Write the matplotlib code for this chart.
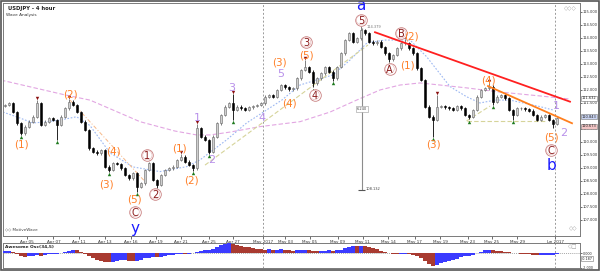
import numpy as np
import matplotlib
matplotlib.use("Agg")
import matplotlib.pyplot as plt
import matplotlib.ticker as mticker

# ---------------- data ----------------
first_open = 111.38
closes = [111.41, 111.47, 111.15, 110.71, 110.32, 110.58, 110.77, 110.96, 111.47, 110.64,
          110.77, 110.90, 110.83, 110.64, 110.96, 111.28, 111.54, 111.41, 111.15, 110.77,
          110.45, 109.74, 109.62, 109.55, 109.68, 109.04, 108.91, 109.17, 109.14, 108.97,
          108.72, 108.59, 108.78, 108.27, 108.40, 108.91, 109.17, 108.53, 108.33, 108.72,
          108.91, 108.97, 109.04, 109.29, 109.42, 109.23, 109.10, 108.97, 110.51, 110.19,
          110.06, 109.62, 110.19, 110.71, 111.03, 111.35, 111.47, 111.22, 111.35, 111.28,
          111.22, 111.32, 111.37, 111.41, 111.47, 111.73, 111.79, 111.73, 111.99, 112.18,
          112.09, 112.01, 112.05, 112.44, 112.76, 112.88, 112.69, 112.24, 112.44, 112.63,
          112.88, 112.69, 112.44, 112.88, 113.40, 113.91, 114.17, 113.85, 113.97, 114.29,
          114.17, 113.85, 113.78, 113.85, 113.65, 113.40, 113.17, 113.33, 113.59, 113.78,
          113.78, 113.59, 113.40, 112.82, 112.37, 111.35, 110.96, 110.83, 111.35, 111.37,
          111.32, 111.28, 111.22, 111.37, 111.28, 111.03, 110.96, 111.22, 111.73, 111.99,
          112.05, 112.12, 111.54, 111.73, 111.79, 111.67, 111.22, 111.03, 111.28, 111.28,
          111.24, 111.19, 111.03, 110.83, 110.96, 111.03, 110.83, 110.68, 110.90]

hi_idx = [8, 16, 36, 44, 48, 57, 75, 89, 100, 108, 121]
hi_val = [111.60, 111.63, 109.23, 109.53, 110.68, 111.82, 113.14, 114.45, 113.94, 111.79, 112.24]
lo_idx = [4, 13, 26, 33, 38, 47, 51, 57, 77, 82, 96, 107, 116, 122, 127, 137]
lo_val = [110.26, 110.06, 108.85, 108.08, 108.21, 108.88, 109.53, 110.83, 112.09, 112.35,
          113.06, 110.19, 110.86, 111.41, 110.83, 110.51]

frac_up_idx = [8, 16, 36, 44, 48, 57, 75, 89, 100, 108, 121]          # red, above highs
frac_dn_idx = [4, 13, 26, 33, 38, 47, 51, 57, 77, 82, 96, 107, 116, 122, 127]  # green, below lows

osc = [0.23, 0.23, 0.14, -0.14, -0.36, -0.50, -0.45, -0.36, -0.32, -0.36,
       -0.27, -0.18, -0.14, -0.09, 0.00, 0.14, 0.32, 0.41, 0.36, 0.18,
       -0.14, -0.45, -0.73, -0.91, -1.05, -1.18, -1.27, -1.23, -1.09, -1.00,
       -1.00, -1.09, -1.14, -1.09, -0.91, -0.73, -0.64, -0.55, -0.59, -0.50,
       -0.36, -0.27, -0.23, -0.14, -0.09, -0.14, -0.09, 0.00, 0.18, 0.32,
       0.36, 0.41, 0.59, 0.82, 1.09, 1.27, 1.36, 1.27, 1.14, 1.00,
       0.86, 0.77, 0.68, 0.59, 0.50, 0.45, 0.50, 0.45, 0.45, 0.50,
       0.45, 0.36, 0.32, 0.36, 0.41, 0.45, 0.41, 0.27, 0.23, 0.27,
       0.32, 0.36, 0.32, 0.36, 0.45, 0.68, 0.86, 0.95, 0.91, 1.00,
       0.95, 0.86, 0.68, 0.50, 0.32, 0.18, 0.05, -0.09, -0.14, -0.14,
       -0.14, -0.18, -0.27, -0.45, -0.73, -1.09, -1.45, -1.73, -1.64, -1.41,
       -1.23, -1.09, -0.91, -0.77, -0.59, -0.45, -0.36, -0.23, -0.05, 0.18,
       0.36, 0.45, 0.41, 0.32, 0.27, 0.18, 0.09, 0.00, -0.05, -0.09,
       -0.14, -0.18, -0.23, -0.27, -0.27, -0.23, -0.23, -0.23, -0.18]

# moving averages (sampled)
ma_slow_x = [-1, 15, 21.25, 33.75, 42.5, 47.9, 51.25, 56.25, 63.75, 73.75, 81.25, 87.9,
             93.75, 98.75, 103.75, 108.75, 115.4, 123.75, 133.75, 141.25]
ma_slow_y = [112.37, 111.80, 111.60, 110.77, 110.41, 110.26, 110.26, 110.37, 110.58, 110.77,
             111.14, 111.60, 111.99, 112.18, 112.26, 112.18, 112.07, 111.91, 111.76, 111.64]
ma_fast_x = [-0.5, 3.75, 7, 10, 13.75, 17.9, 21.25, 26.25, 32, 38.75, 45.4, 48.75, 55.4,
             60.4, 69.2, 73.75, 82, 86.25, 90.5, 95, 101.25, 105.4, 111.25, 115.4, 118.75,
             122.5, 126.25, 133.75, 137]
ma_fast_y = [111.14, 110.91, 110.72, 110.76, 110.83, 110.96, 110.62, 109.57, 109.03, 108.85,
             109.04, 109.30, 110.07, 110.72, 111.60, 112.18, 112.57, 113.14, 113.80, 113.91,
             113.91, 113.27, 112.12, 111.73, 111.49, 111.60, 111.60, 111.35, 111.22]

# trend / helper lines: (x0, y0, x1, y1)
red_line = [92.5, 114.21, 141.25, 111.54]
orange_line = [120.75, 112.14, 141.75, 110.71]
light_orange = [16.25, 111.60, 35.4, 108.40]
yellow_up = [50, 109.10, 90.75, 113.72]
yellow_flat = [115.5, 110.80, 135, 110.80]
yellow_diag = [115.4, 110.80, 121.25, 111.37]
measure = [89.2, 114.37, 108.14]

date_pos = [5.5, 12.1, 18.55, 25.05, 31.4, 37.75, 44, 50.9, 57, 64.5, 70, 76.25, 83.25,
            89.4, 95.85, 102.4, 108.75, 115.75, 121.7, 128, 137.5]
date_lab = ["Apr 05", "Apr 07", "Apr 11", "Apr 13", "Apr 16", "Apr 19", "Apr 21", "Apr 25",
            "Apr 27", "May 2017", "May 03", "May 05", "May 09", "May 11", "May 14", "May 17",
            "May 19", "May 23", "May 25", "May 29", "Jun 2017"]
vlines_at = [64.5, 137.5]

lab_text = ["(1)", "(2)", "(4)", "(3)", "(5)", "C", "y", "1", "2", "(1)", "(2)", "1", "2",
            "3", "4", "(4)", "5", "(3)", "(5)", "3", "4", "5", "a", "A", "B", "(2)", "(1)",
            "(3)", "(4)", "1", "2", "(5)", "C", "b"]
lab_x = [4.2, 16.25, 27, 25.35, 32.4, 32.4, 32.4, 35.6, 37.5, 43.7, 46.6, 48, 51.6,
         56.6, 64.3, 71, 68.9, 68.6, 75.3, 75.3, 77.4, 89, 89, 96.15, 99, 101.6, 100.65,
         107.15, 120.9, 137.95, 139.6, 136.5, 136.5, 136.5]
lab_y = [109.91, 111.82, 109.62, 108.36, 107.76, 107.30, 106.67, 109.48, 107.98, 109.72,
         108.52, 110.92, 109.30, 112.05, 110.90, 111.46, 112.60, 113.05, 113.32, 113.82,
         111.80, 114.68, 115.22, 112.81, 114.17, 114.04, 112.95, 109.91, 112.37, 111.37,
         110.32, 110.17, 109.68, 109.10]
lab_kind = ["o", "o", "o", "o", "o", "c", "b", "c", "c", "o", "o", "p", "p",
            "p", "p", "o", "p", "o", "o", "c", "c", "c", "b", "c", "c", "o", "o",
            "o", "o", "p", "p", "o", "c", "b"]

price_ticks = [107.0, 107.5, 108.0, 108.5, 109.0, 109.5, 110.0, 110.5, 111.5,
               112.0, 112.5, 113.0, 113.5, 114.0, 114.5, 115.0]
tag_vals = [111.67, 110.96, 110.60]
tag_text = ["111.632", "110.843", "110.673"]
osc_ticks = [0.0, -2.0]
osc_tag = "-0.187"

# ---------------- layout ----------------
W, H = 600, 271
fig = plt.figure(figsize=(6.0, 2.71), dpi=100)
fig.patch.set_facecolor("white")


def box(l, t, r, b):
    return [l / W, 1 - b / H, (r - l) / W, (b - t) / H]


ax = fig.add_axes(box(3, 3, 580, 236))
ax2 = fig.add_axes(box(3, 243, 580, 268))
XL = (-0.5, 143.75)

fig.add_artist(plt.Rectangle((0.002, 0.004), 0.996, 0.992, transform=fig.transFigure,
                             fill=False, ec="#555555", lw=1.2))

# ---------------- candles ----------------
closes = np.array(closes)
x = np.arange(len(closes))
opens = np.r_[first_open, closes[:-1]]
highs = np.maximum(opens, closes) + 0.05
lows = np.minimum(opens, closes) - 0.05
for i, v in zip(hi_idx, hi_val):
    highs[i] = max(v, highs[i])
for i, v in zip(lo_idx, lo_val):
    lows[i] = min(v, lows[i])
up = closes >= opens
wick_c = np.where(up, "#6a6a6a", "#000000")
ax.vlines(x, lows, highs, colors=wick_c, lw=0.6, zorder=3)
h = closes - opens
h = np.where(np.abs(h) < 0.025, 0.025, h)
ax.bar(x, h, bottom=opens, width=0.7, color=np.where(up, "#cfcfcf", "#000000"),
       edgecolor=np.where(up, "#666666", "#000000"), lw=0.4, zorder=4)

# fractals
ax.scatter(np.array(frac_up_idx), highs[frac_up_idx] + 0.09, marker="v", s=6,
           color="#8b1010", zorder=5, lw=0)
ax.scatter(np.array(frac_dn_idx), lows[frac_dn_idx] - 0.09, marker="^", s=6,
           color="#1e7a1e", zorder=5, lw=0)

# moving averages and helper lines
ax.plot(ma_slow_x, ma_slow_y, color="#e2a6e2", lw=0.8, ls=(0, (4, 2)), zorder=2)
ax.plot(ma_fast_x, ma_fast_y, color="#9db8f2", lw=0.8, ls=(0, (1.5, 1.5)), zorder=2)
ax.plot(light_orange[::2], light_orange[1::2], color="#f7b98a", lw=0.7, ls=(0, (4, 2, 1, 2)), zorder=2)
for seg in (yellow_up, yellow_flat, yellow_diag):
    ax.plot(seg[::2], seg[1::2], color="#d6d49a", lw=0.8, ls=(0, (4, 2)), zorder=2)

# trend lines
ax.plot(red_line[::2], red_line[1::2], color="#ff2020", lw=1.3, zorder=6)
ax.plot(orange_line[::2], orange_line[1::2], color="#ff7f1e", lw=1.3, zorder=6)

# measurement tool
ax.vlines(measure[0], measure[2], measure[1], color="#8c8c8c", lw=0.8, zorder=2)
ax.hlines(measure[2], measure[0] - 0.9, measure[0] + 0.9, color="#555555", lw=0.8)
ax.text(measure[0], 111.26, "6.240", fontsize=2.6, ha="center", va="center", color="#444",
        bbox=dict(boxstyle="square,pad=0.3", fc="white", ec="#999999", lw=0.4), zorder=7)
ax.text(measure[0] + 1.0, measure[2] + 0.03, "108.132", fontsize=2.6, ha="left", va="center", color="#444")
ax.text(measure[0] + 1.2, 114.40, "114.379", fontsize=2.6, ha="left", va="center", color="#777")

# vertical dashed separators
for v in vlines_at:
    ax.axvline(v, color="#9a9a9a", lw=0.7, ls=(0, (2, 2)), zorder=1)
    ax2.axvline(v, color="#9a9a9a", lw=0.7, ls=(0, (2, 2)), zorder=1)

# wave labels
colors = {"o": "#ff7f27", "p": "#b890ea", "b": "#1a1aff"}
for t, lx, ly, k in zip(lab_text, lab_x, lab_y, lab_kind):
    if k == "c":
        ax.scatter([lx], [ly], s=70, facecolor="white", edgecolor="#c98080", lw=0.6, zorder=8)
        ax.scatter([lx], [ly], s=45, facecolor="none", edgecolor="#e0b0b0", lw=0.4, zorder=8)
        ax.text(lx, ly, t, fontsize=7, color="#8b1a1a", ha="center", va="center_baseline", zorder=9)
    elif k == "o":
        ax.text(lx, ly, t, fontsize=7.5, color=colors[k], ha="center", va="center", zorder=9)
    elif k == "p":
        ax.text(lx, ly, t, fontsize=8, color=colors[k], ha="center", va="center", zorder=9)
    else:
        ax.text(lx, ly, t, fontsize=11, color=colors[k], ha="center", va="center", zorder=9)

# titles and small texts
ax.text(0.008, 0.985, "USDJPY - 4 hour", transform=ax.transAxes, fontsize=3.8,
        fontweight="bold", ha="left", va="top", color="#222")
ax.text(0.006, 0.958, "Wave Analysis", transform=ax.transAxes, fontsize=3.1,
        ha="left", va="top", color="#333")
ax.text(0.004, 0.02, "\u25c7\u25c7 MotiveWave", transform=ax.transAxes, fontsize=3.0,
        ha="left", va="bottom", color="#444")
ax.text(0.995, 0.985, "\u25c7\u25c7\u25c7", transform=ax.transAxes, fontsize=4,
        ha="right", va="top", color="#999")
ax.text(0.995, 0.02, "\u25c7\u25c7", transform=ax.transAxes, fontsize=4,
        ha="right", va="bottom", color="#999")

# axes styling (main)
ax.set_xlim(*XL)
ax.set_ylim(106.373, 115.335)
ax.yaxis.tick_right()
ax.set_yticks(price_ticks)
ax.yaxis.set_major_formatter(mticker.FormatStrFormatter("%.3f"))
ax.tick_params(axis="y", labelsize=2.6, length=1.5, width=0.5, pad=0.6, colors="#333")
ax.set_xticks(date_pos)
ax.set_xticklabels(date_lab)
ax.tick_params(axis="x", labelsize=3.0, length=2, width=0.5, pad=1, colors="#333")
for s in ax.spines.values():
    s.set_color("#7a7a7a")
    s.set_linewidth(0.7)

tag_fc = ["white", "#c8d2f0", "#f2c4c4"]
for v, t, fc in zip(tag_vals, tag_text, tag_fc):
    ax.text(1.003, v, t, transform=ax.get_yaxis_transform(), fontsize=2.6, ha="left",
            va="center", color="#222",
            bbox=dict(boxstyle="square,pad=0.15", fc=fc, ec="#777777", lw=0.4), zorder=10,
            clip_on=False)

# ---------------- oscillator ----------------
osc = np.array(osc)
ocol = np.where(np.r_[True, np.diff(osc) >= 0], "#3b3bff", "#a83a30")
ax2.bar(np.arange(len(osc)), osc, width=1.0, color=ocol, lw=0, zorder=3)
ax2.axhline(0, color="#888888", lw=0.5, ls=(0, (1.5, 1.5)), zorder=2)
ax2.set_xlim(*XL)
ax2.set_ylim(-2.05, 1.38)
ax2.set_xticks([])
ax2.yaxis.tick_right()
ax2.set_yticks(osc_ticks)
ax2.yaxis.set_major_formatter(mticker.FormatStrFormatter("%.3f"))
ax2.tick_params(axis="y", labelsize=2.4, length=1.5, width=0.5, pad=0.6, colors="#333")
for s in ax2.spines.values():
    s.set_color("#7a7a7a")
    s.set_linewidth(0.7)
ax2.text(0.004, 0.93, "Awesome Osc(34,5)", transform=ax2.transAxes, fontsize=3.2,
         fontweight="bold", ha="left", va="top", color="#222")
ax2.text(0.995, 0.95, "\u25c7\u25a1", transform=ax2.transAxes, fontsize=4,
         ha="right", va="top", color="#999")
ax2.text(1.003, -0.8, osc_tag, transform=ax2.get_yaxis_transform(), fontsize=2.4,
         ha="left", va="center", color="#222",
         bbox=dict(boxstyle="square,pad=0.12", fc="white", ec="#777777", lw=0.4), clip_on=False)

fig.savefig("out.png", dpi=100, facecolor="white")
